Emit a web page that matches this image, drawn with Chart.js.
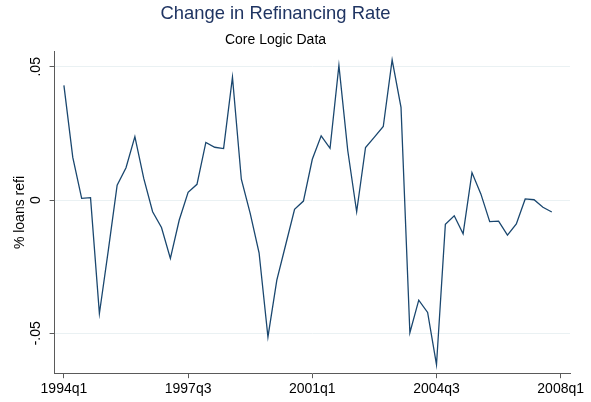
<!DOCTYPE html>
<html lang="en">
<head>
    <meta charset="UTF-8">
    <title>Change in Refinancing Rate</title>
    <script src="https://cdn.jsdelivr.net/npm/chart.js"></script>
    <style>
        html, body { margin: 0; padding: 0; background: #fff; }
        #wrap { width: 591px; height: 402px; }
    </style>
</head>
<body>
    <div id="wrap"><canvas id="refiChart"></canvas></div>

    <script>
        // quarterly change in share of loans that are refinances, 1994q1 - 2007q4
        var refiChange = [
            0.0430, 0.0160, 0.0006, 0.0009, -0.0426, -0.0190, 0.0056, 0.0121,
            0.0238, 0.0081, -0.0044, -0.0103, -0.0219, -0.0075, 0.0029, 0.0059,
            0.0216, 0.0198, 0.0193, 0.0461, 0.0078, -0.0050, -0.0198, -0.0514,
            -0.0301, -0.0168, -0.0035, -0.0004, 0.0153, 0.0241, 0.0194, 0.0505,
            0.0185, -0.0044, 0.0197, 0.0236, 0.0276, 0.0526, 0.0348, -0.0498,
            -0.0376, -0.0422, -0.0618, -0.0091, -0.0059, -0.0127, 0.0103, 0.0023,
            -0.0081, -0.0079, -0.0132, -0.0090, 0.0004, 0.0001, -0.0027, -0.0045
        ];

        // x ticks (quarter index counted from 1994q1)
        var xTickPos = [0, 14, 28, 42, 56];
        var xTickLabels = ['1994q1', '1997q3', '2001q1', '2004q3', '2008q1'];

        var yTickPos = [-0.05, 0, 0.05];
        var yTickLabels = ['-.05', '0', '.05'];

        var points = refiChange.map(function(v, i) { return { x: i, y: v }; });

        var axisColor = '#5a5a5a';
        var gridColor = '#eaf1f3';

        // Stata centres the titles a bit left of the canvas middle
        var titleShift = {
            id: 'titleShift',
            afterLayout: function(chart) {
                chart.boxes.forEach(function(b) {
                    if (b.options && b.options.text !== undefined && b.position === 'top') {
                        b.left = 0;
                        b.right = 551;
                        b.width = 551;
                    }
                });
            }
        };

        Chart.defaults.font.family = "'Liberation Sans', Arial, sans-serif";
        Chart.defaults.color = '#000';

        new Chart(document.getElementById('refiChart'), {
            type: 'line',
            data: {
                datasets: [{
                    data: points,
                    borderColor: '#1a476f',
                    borderWidth: 1.3,
                    pointRadius: 0,
                    tension: 0,
                    fill: false
                }]
            },
            plugins: [titleShift],
            options: {
                responsive: true,
                maintainAspectRatio: false,
                animation: false,
                layout: { padding: { left: 6, right: 21, top: 0, bottom: 1 } },
                plugins: {
                    legend: { display: false },
                    tooltip: { enabled: false },
                    title: {
                        display: true,
                        text: 'Change in Refinancing Rate',
                        color: '#1f3462',
                        font: { size: 18.4, weight: 'normal' },
                        padding: { top: 3, bottom: 0 }
                    },
                    subtitle: {
                        display: true,
                        text: 'Core Logic Data',
                        color: '#000',
                        font: { size: 14 },
                        padding: { top: 7, bottom: 3 }
                    }
                },
                scales: {
                    x: {
                        type: 'linear',
                        min: -1.05,
                        max: 57.05,
                        afterBuildTicks: function(scale) {
                            scale.ticks = xTickPos.map(function(v) { return { value: v }; });
                        },
                        ticks: {
                            font: { size: 14 },
                            color: '#000',
                            padding: 3,
                            maxRotation: 0,
                            autoSkip: false,
                            callback: function(v) {
                                var k = xTickPos.indexOf(v);
                                return k >= 0 ? xTickLabels[k] : '';
                            }
                        },
                        grid: {
                            drawOnChartArea: false,
                            tickLength: 5,
                            tickColor: axisColor
                        },
                        border: { color: axisColor, width: 1 }
                    },
                    y: {
                        min: -0.065,
                        max: 0.0556,
                        afterBuildTicks: function(scale) {
                            scale.ticks = yTickPos.map(function(v) { return { value: v }; });
                        },
                        title: {
                            display: true,
                            text: '% loans refi',
                            font: { size: 14 },
                            color: '#000',
                            padding: { top: 6, bottom: 2 }
                        },
                        ticks: {
                            font: { size: 14 },
                            color: '#000',
                            padding: 1,
                            minRotation: 90,
                            maxRotation: 90,
                            crossAlign: 'center',
                            callback: function(v) {
                                var k = yTickPos.indexOf(v);
                                return k >= 0 ? yTickLabels[k] : '';
                            }
                        },
                        grid: {
                            color: gridColor,
                            lineWidth: 1,
                            tickLength: 5,
                            tickColor: axisColor
                        },
                        border: { color: axisColor, width: 1 }
                    }
                }
            }
        });
    </script>
</body>
</html>
